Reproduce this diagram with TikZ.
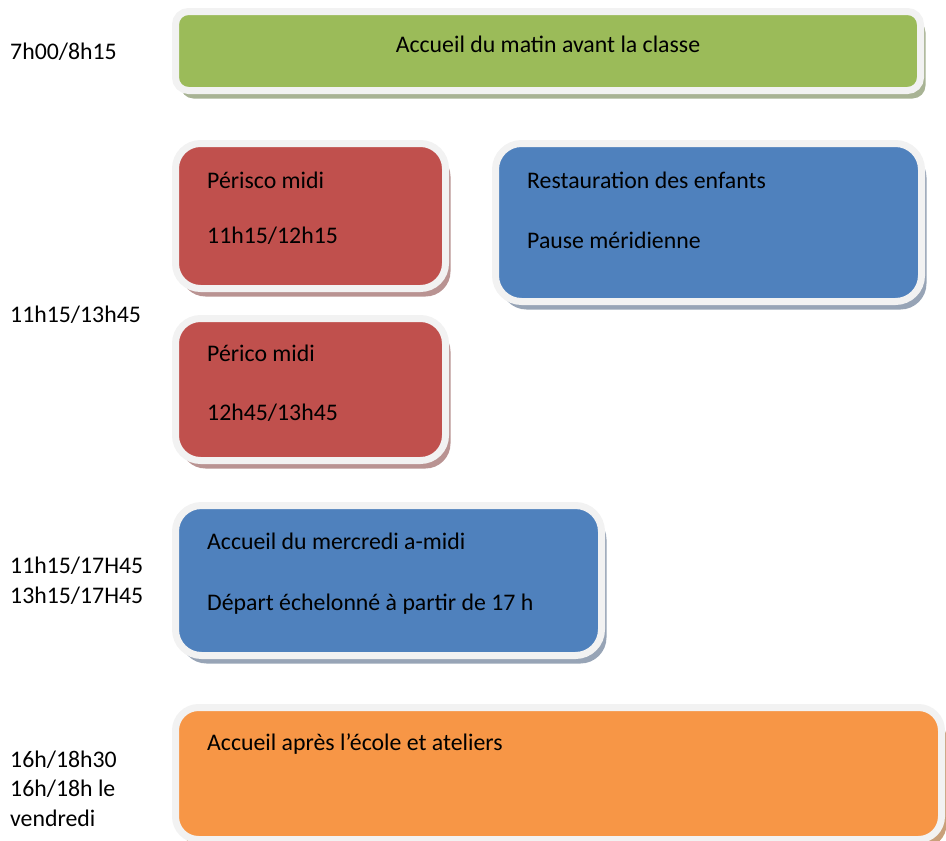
\documentclass[tikz,border=0pt]{standalone}
\usepackage{fontspec}
\setmainfont{Carlito}
\usepackage{xcolor}
\usepackage{tikz}
\usetikzlibrary{shadows, positioning}

\definecolor{rim}{HTML}{F2F2F2}
\definecolor{greenfill}{HTML}{9BBB59}
\definecolor{greenshade}{HTML}{A8B394}
\definecolor{redfill}{HTML}{C0504D}
\definecolor{redshade}{HTML}{B99392}
\definecolor{bluefill}{HTML}{4F81BD}
\definecolor{blueshade}{HTML}{97A4B6}
\definecolor{orangefill}{HTML}{F79646}
\definecolor{orangeshade}{HTML}{C9A07A}

\begin{document}
\begin{tikzpicture}[
    x=1pt, y=-1pt,
    font=\fontsize{23.8}{29.5}\selectfont,
    slot/.style={draw=rim, line width=7pt, rectangle, inner sep=0pt},
    greenslot/.style={slot, fill=greenfill, rounded corners=13pt,
        drop shadow={shadow xshift=5pt, shadow yshift=-8pt, opacity=1, fill=greenshade}},
    redslot/.style={slot, fill=redfill, rounded corners=25pt,
        drop shadow={shadow xshift=5pt, shadow yshift=-8pt, opacity=1, fill=redshade}},
    blueslot/.style={slot, fill=bluefill, rounded corners=26pt,
        drop shadow={shadow xshift=5pt, shadow yshift=-8pt, opacity=1, fill=blueshade}},
    orangeslot/.style={slot, fill=orangefill, rounded corners=23pt,
        drop shadow={shadow xshift=5pt, shadow yshift=-8pt, opacity=1, fill=orangeshade}},
    txt/.style={anchor=base west, inner sep=0pt},
    hour/.style={anchor=base west, inner sep=0pt, align=left},
]
\useasboundingbox (0,0) rectangle (946,841);

\node[greenslot, minimum width=745pt, minimum height=79pt] (matin) at (548,51) {};
\node[redslot, minimum width=270pt, minimum height=145pt] (perisco) at (310.5,216) {};
\node[blueslot, minimum width=426pt, minimum height=158pt] (resto) at (708.5,222.5) {};
\node[redslot, minimum width=270pt, minimum height=142pt] (perico) at (310.5,389.5) {};
\node[blueslot, minimum width=426pt, minimum height=150pt] (mercredi) at (388.5,580.5) {};
\node[orangeslot, minimum width=766pt, minimum height=132pt] (soir) at (558.5,773.5) {};

\node[anchor=base, inner sep=0pt] (matintxt) at (548,52) {Accueil du matin avant la classe};
\node[txt] (peristxt) at (207,188) {Périsco midi};
\node[txt] (perishr) at (207,243) {11h15/12h15};
\node[txt] (restotxt) at (527,188) {Restauration des enfants};
\node[txt] (pausetxt) at (527,248) {Pause méridienne};
\node[txt] (pericotxt) at (207,361) {Périco midi};
\node[txt] (pericohr) at (207,420) {12h45/13h45};
\node[txt] (mercrtxt) at (207,549) {Accueil du mercredi a-midi};
\node[txt] (departtxt) at (207,610) {Départ échelonné à partir de 17 h};
\node[txt] (soirtxt) at (207,750) {Accueil après l’école et ateliers};

% multi-line labels sit on the baseline of their last line
\node[hour] (hmatin) at (10,59) {7h00/8h15};
\node[hour] (hmidi) at (10,322) {11h15/13h45};
\node[hour] (hmercr) at (10,603) {11h15/17H45\\13h15/17H45};
\node[hour] (hsoir) at (10,826) {16h/18h30\\16h/18h le\\vendredi};
\end{tikzpicture}
\end{document}
